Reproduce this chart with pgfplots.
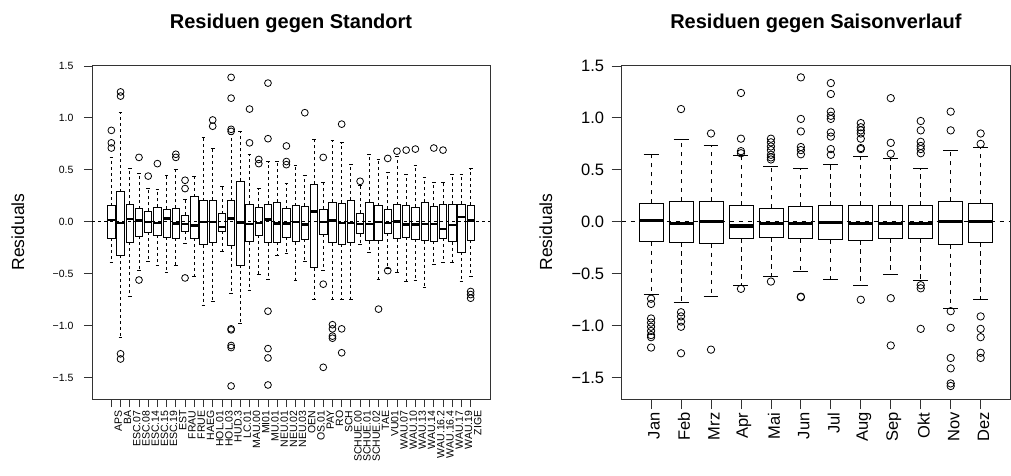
\documentclass[border=0pt]{standalone}
\usepackage{fontspec}
\setmainfont{Liberation Sans}
\usepackage{pgfplots}
\pgfplotsset{compat=1.18}
\usepgfplotslibrary{statistics}

% one box: position, lower whisker, lower quartile, median, upper quartile, upper whisker, outliers
\newcommand\onebox[7]{\addplot[bp, boxplot prepared={draw position=#1,
  lower whisker=#2, lower quartile=#3, median=#4, upper quartile=#5, upper whisker=#6}]
  coordinates {#7};}

\tikzset{tickst/.style={black!80, line width=0.8pt}}

\pgfplotsset{
  rbase/.style={
    scale only axis, anchor=south west, clip=false,
    ymin=-1.705, ymax=1.509,
    ytick={-1.5,-1,-0.5,0,0.5,1,1.5},
    yticklabels={−1.5,−1.0,−0.5,0.0,0.5,1.0,1.5},
    tick pos=left, tick align=outside,
    axis line style={black!80, line width=0.8pt},
    every tick/.style={black!80, line width=0.8pt},
    yticklabel style={anchor=east},
    xticklabel style={rotate=90, anchor=east},
    ylabel={Residuals},
    every axis title/.style={at={(axis description cs:0.5,1)}, anchor=base, yshift=37pt,
      font=\bfseries\fontsize{20}{24}\selectfont},
  },
  bp/.style={black, line width=0.8pt, mark=o, mark options={solid, line width=0.8pt},
    boxplot/draw direction=y,
    boxplot/box extend=0.8,
    boxplot/every median/.style={medw},
    boxplot/draw/lower whisker/.code={%
      \draw[wdash] (boxplot cs:\pgfplotsboxplotvalue{lower quartile})
        -- (boxplot cs:\pgfplotsboxplotvalue{lower whisker});
      \draw (boxplot whisker cs:\pgfplotsboxplotvalue{lower whisker},0)
        -- (boxplot whisker cs:\pgfplotsboxplotvalue{lower whisker},1);},
    boxplot/draw/upper whisker/.code={%
      \draw[wdash] (boxplot cs:\pgfplotsboxplotvalue{upper quartile})
        -- (boxplot cs:\pgfplotsboxplotvalue{upper whisker});
      \draw (boxplot whisker cs:\pgfplotsboxplotvalue{upper whisker},0)
        -- (boxplot whisker cs:\pgfplotsboxplotvalue{upper whisker},1);},
  },
}

\begin{document}
\begin{tikzpicture}

% ---- left: Standort ----
\tikzset{wdash/.style={dash pattern=on 3pt off 3pt}, medw/.style={line width=2.6pt}}
\begin{axis}[rbase, at={(92pt,76pt)}, width=398pt, height=334pt,
  title={Residuen gegen Standort},
  xmin=-1.1, xmax=42.1,
  xtick={1,...,40},
  xticklabels={APS,BA,ESC.07,ESC.08,ESC.14,ESC.15,ESC.19,EST,FRAU,FRUE,HAEG,HOL.01,HOL.03,HUD.3,LC.01,MAU.00,MI01,MU.01,NEU.01,NEU.02,NEU.03,OEN,OS.01,PAY,RO,SCH,SCHUE.00,SCHUE.01,SCHUE.02,TAE,VU01,WAU.07,WAU.10,WAU.13,WAU.14,WAU.16.2,WAU.16.4,WAU.17,WAU.19,ZIGE},
  major tick length=8pt,
  ticklabel style={font=\fontsize{10.5}{11}\selectfont},
  yticklabel style={xshift=-7pt},
  xticklabel style={yshift=-7pt},
  ylabel style={font=\fontsize{17.5}{20}\selectfont},
  every axis y label/.append style={at={(axis description cs:-0.186,0.5)}, anchor=center},
  bp/.append style={mark size=3.4pt, boxplot/whisker extend=0.4},
]
\onebox{1}{-0.39}{-0.16}{0.016}{0.157}{0.62}{(0,0.88) (0,0.76) (0,0.71)}
\onebox{2}{-1.11}{-0.32}{-0.013}{0.29}{1.05}{(0,1.25) (0,1.21) (0,-1.27) (0,-1.32)}
\onebox{3}{-0.72}{-0.196}{0.026}{0.167}{0.51}{}
\onebox{4}{-0.47}{-0.138}{0.013}{0.125}{0.47}{(0,0.62) (0,-0.56)}
\onebox{5}{-0.385}{-0.10}{0.0}{0.10}{0.32}{(0,0.44)}
\onebox{6}{-0.42}{-0.13}{-0.01}{0.14}{0.31}{(0,0.56)}
\onebox{7}{-0.49}{-0.15}{0.03}{0.12}{0.45}{}
\onebox{8}{-0.42}{-0.16}{-0.016}{0.13}{0.50}{(0,0.65) (0,0.62)}
\onebox{9}{-0.21}{-0.09}{-0.02}{0.065}{0.22}{(0,0.40) (0,0.32) (0,-0.54)}
\onebox{10}{-0.53}{-0.16}{-0.035}{0.24}{0.44}{}
\onebox{11}{-0.80}{-0.22}{0.0}{0.205}{0.81}{}
\onebox{12}{-0.77}{-0.20}{0.0}{0.21}{0.71}{(0,0.98) (0,0.92)}
\onebox{13}{-0.28}{-0.09}{-0.05}{0.08}{0.34}{}
\onebox{14}{-0.69}{-0.23}{0.03}{0.205}{0.84}{(0,1.39) (0,1.19) (0,0.89) (0,0.87) (0,-1.03) (0,-1.04) (0,-1.19) (0,-1.21) (0,-1.58)}
\onebox{15}{-0.98}{-0.42}{-0.006}{0.39}{0.87}{}
\onebox{16}{-0.66}{-0.19}{-0.02}{0.17}{0.65}{(0,1.085) (0,0.76)}
\onebox{17}{-0.51}{-0.13}{-0.01}{0.14}{0.32}{(0,0.60) (0,0.56)}
\onebox{18}{-0.55}{-0.20}{0.02}{0.17}{0.58}{(0,1.335) (0,0.80) (0,-0.86) (0,-1.22) (0,-1.31) (0,-1.57)}
\onebox{19}{-0.32}{-0.196}{-0.016}{0.19}{0.58}{}
\onebox{20}{-0.30}{-0.15}{-0.016}{0.125}{0.37}{(0,0.73) (0,0.58) (0,0.55)}
\onebox{21}{-0.56}{-0.19}{0.0}{0.157}{0.54}{}
\onebox{22}{-0.38}{-0.17}{-0.026}{0.15}{0.45}{(0,1.05)}
\onebox{23}{-0.75}{-0.44}{0.10}{0.36}{0.79}{}
\onebox{24}{-0.47}{-0.12}{0.0}{0.12}{0.38}{(0,0.62) (0,-0.60) (0,-1.40)}
\onebox{25}{-0.75}{-0.20}{0.013}{0.19}{0.78}{(0,-0.99) (0,-1.03) (0,-1.10) (0,-1.12)}
\onebox{26}{-0.75}{-0.215}{-0.013}{0.18}{0.76}{(0,0.94) (0,-1.03) (0,-1.26)}
\onebox{27}{-0.75}{-0.20}{-0.013}{0.21}{0.55}{}
\onebox{28}{-0.22}{-0.116}{-0.02}{0.083}{0.35}{(0,0.39)}
\onebox{29}{-0.295}{-0.183}{-0.022}{0.186}{0.645}{}
\onebox{30}{-0.55}{-0.183}{0.0}{0.157}{0.60}{(0,-0.84)}
\onebox{31}{-0.45}{-0.11}{-0.013}{0.12}{0.48}{(0,0.61) (0,-0.47)}
\onebox{32}{-0.49}{-0.164}{0.003}{0.164}{0.63}{(0,0.68)}
\onebox{33}{-0.575}{-0.148}{-0.026}{0.16}{0.46}{(0,0.69)}
\onebox{34}{-0.56}{-0.17}{-0.026}{0.138}{0.546}{(0,0.70)}
\onebox{35}{-0.63}{-0.18}{-0.022}{0.19}{0.427}{}
\onebox{36}{-0.405}{-0.186}{-0.02}{0.15}{0.38}{(0,0.71)}
\onebox{37}{-0.39}{-0.157}{-0.07}{0.167}{0.38}{(0,0.69)}
\onebox{38}{-0.39}{-0.19}{-0.03}{0.167}{0.46}{}
\onebox{39}{-0.575}{-0.29}{0.045}{0.167}{0.46}{}
\onebox{40}{-0.53}{-0.177}{0.013}{0.16}{0.51}{(0,-0.67) (0,-0.70) (0,-0.735)}
\addplot[black, line width=0.8pt, dash pattern=on 3pt off 3pt] coordinates {(-1.1,0) (42.1,0)};
% tick marks
\pgfplotsinvokeforeach{1,...,40}{\draw[tickst] (axis cs:#1,-1.705) -- ++(0pt,-8pt);}
\pgfplotsinvokeforeach{-1.5,-1,-0.5,0,0.5,1,1.5}{\draw[tickst] (axis cs:-1.1,#1) -- ++(-8pt,0pt);}
\end{axis}

% ---- right: Saisonverlauf ----
\tikzset{wdash/.style={dash pattern=on 4.5pt off 4.5pt}, medw/.style={line width=3.2pt}}
\begin{axis}[rbase, at={(621.7pt,76pt)}, width=388.3pt, height=334pt,
  title={Residuen gegen Saisonverlauf},
  xmin=0.02, xmax=12.98,
  xtick={1,...,12},
  xticklabels={Jan,Feb,Mrz,Apr,Mai,Jun,Jul,Aug,Sep,Okt,Nov,Dez},
  major tick length=10pt,
  ticklabel style={font=\fontsize{16.5}{18}\selectfont},
  yticklabel style={xshift=-4pt},
  xticklabel style={yshift=-3pt},
  ylabel style={font=\fontsize{17.5}{20}\selectfont},
  every axis y label/.append style={at={(axis description cs:-0.195,0.5)}, anchor=center},
  bp/.append style={mark size=3.7pt, boxplot/whisker extend=0.5},
]
\onebox{1}{-0.70}{-0.19}{0.013}{0.177}{0.65}{(0,-0.74) (0,-0.79) (0,-0.93) (0,-0.97) (0,-1.01) (0,-1.05) (0,-1.09) (0,-1.11) (0,-1.21)}
\onebox{2}{-0.775}{-0.196}{-0.013}{0.20}{0.79}{(0,1.085) (0,-0.87) (0,-0.91) (0,-0.96) (0,-1.01) (0,-1.265)}
\onebox{3}{-0.72}{-0.21}{0.0}{0.20}{0.74}{(0,0.85) (0,-1.23)}
\onebox{4}{-0.61}{-0.16}{-0.04}{0.16}{0.64}{(0,1.24) (0,0.80) (0,0.68) (0,0.66) (0,-0.645)}
\onebox{5}{-0.53}{-0.148}{-0.013}{0.13}{0.53}{(0,0.80) (0,0.765) (0,0.725) (0,0.69) (0,0.645) (0,0.62) (0,0.60) (0,-0.575)}
\onebox{6}{-0.48}{-0.164}{-0.013}{0.15}{0.51}{(0,1.39) (0,0.99) (0,0.87) (0,0.72) (0,0.69) (0,0.65) (0,-0.72) (0,-0.725)}
\onebox{7}{-0.55}{-0.173}{-0.01}{0.154}{0.555}{(0,1.335) (0,1.23) (0,1.06) (0,1.02) (0,0.99) (0,0.86) (0,0.82) (0,0.70) (0,0.645)}
\onebox{8}{-0.61}{-0.177}{-0.013}{0.16}{0.63}{(0,0.95) (0,0.91) (0,0.88) (0,0.85) (0,0.80) (0,0.71) (0,0.70) (0,-0.75)}
\onebox{9}{-0.51}{-0.16}{-0.02}{0.157}{0.61}{(0,1.19) (0,0.76) (0,0.655) (0,-0.735) (0,-1.19)}
\onebox{10}{-0.56}{-0.16}{-0.013}{0.154}{0.51}{(0,0.97) (0,0.88) (0,0.77) (0,0.73) (0,0.70) (0,0.66) (0,-0.61) (0,-0.64) (0,-1.03)}
\onebox{11}{-0.835}{-0.22}{0.0}{0.196}{0.69}{(0,1.06) (0,0.88) (0,-0.86) (0,-1.02) (0,-1.31) (0,-1.41) (0,-1.555) (0,-1.58)}
\onebox{12}{-0.745}{-0.196}{0.003}{0.177}{0.72}{(0,0.85) (0,0.75) (0,-0.91) (0,-1.03) (0,-1.11) (0,-1.26) (0,-1.31)}
\addplot[black, line width=0.8pt, dash pattern=on 4.5pt off 4.5pt] coordinates {(0.02,0) (12.98,0)};
% tick marks
\pgfplotsinvokeforeach{1,...,12}{\draw[tickst] (axis cs:#1,-1.705) -- ++(0pt,-10pt);}
\pgfplotsinvokeforeach{-1.5,-1,-0.5,0,0.5,1,1.5}{\draw[tickst] (axis cs:0.02,#1) -- ++(-10pt,0pt);}
\end{axis}
\path (0pt,0pt) rectangle (1011pt,475pt);
\end{tikzpicture}
\end{document}
